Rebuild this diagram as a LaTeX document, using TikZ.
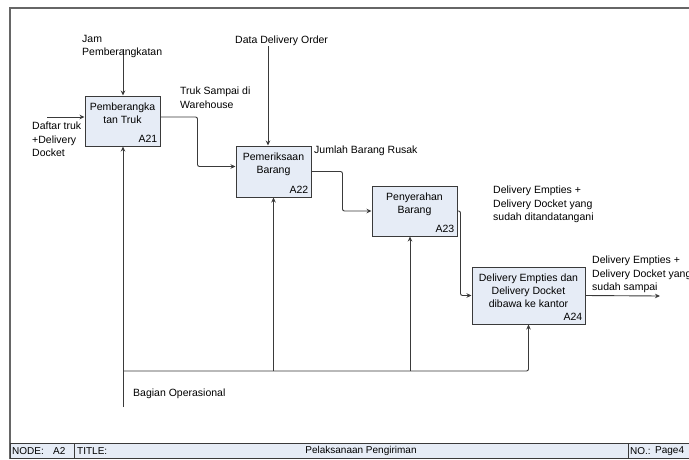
\documentclass[tikz,border=0pt]{standalone}
\usepackage{fontspec}
\setmainfont{Liberation Sans}
\usetikzlibrary{arrows.meta}
\definecolor{boxfill}{HTML}{E6ECF6}
\definecolor{boxline}{HTML}{3A3A3A}
\definecolor{framegray}{HTML}{666666}

\begin{document}
\begin{tikzpicture}[x=1pt, y=-1pt,
  fn/.style={draw=boxline, fill=boxfill, line width=1pt, inner sep=0pt},
  boxtxt/.style={font=\fontsize{10.5}{13}\selectfont, inner sep=0pt, align=center, anchor=north},
  idtxt/.style={font=\fontsize{10.5}{13}\selectfont, inner sep=0pt, anchor=base east},
  txt/.style={font=\fontsize{10.5}{13.5}\selectfont, inner sep=0pt, align=left, anchor=north west},
  bartxt/.style={font=\fontsize{10}{12}\selectfont, inner sep=0pt},
  flow/.style={draw=boxline, line width=0.9pt, rounded corners=2pt, -{Stealth[length=5pt,width=4.5pt]}}]
  \useasboundingbox (0,0) rectangle (689,459);

  % Frame and title bar
  \draw[framegray, line width=1.6pt] (10,459) -- (10,8) -- (700,8);
  \draw[boxline, fill=boxfill, line width=1pt] (10,443) rectangle (700,458);
  \draw[boxline, line width=1pt] (74,443) -- (74,458);
  \draw[boxline, line width=1pt] (628,443) -- (628,458);
  \node[bartxt, anchor=west] (nodetag) at (12,451) {NODE:};
  \node[bartxt, anchor=west] (nodeno) at (53,451) {A2};
  \node[bartxt, anchor=west] (titletag) at (77,451) {TITLE:};
  \node[bartxt] (title) at (361,451) {Pelaksanaan Pengiriman};
  \node[bartxt, anchor=west] (notag) at (630,451) {NO.:};
  \node[bartxt, anchor=west] (page) at (655,451) {Page4};

  % Activity boxes
  \foreach \n/\c/\w/\h/\t in {21/{122.5,121}/75/50/{Pemberangka\\tan Truk},
                              22/{273.5,171.5}/75/51/{Pemeriksaan\\Barang},
                              23/{414.5,211}/85/50/{Penyerahan\\Barang},
                              24/{528.5,295.5}/113/57/{Delivery Empties dan\\Delivery Docket\\dibawa ke kantor}} {
    \node[fn, minimum width=\w pt, minimum height=\h pt] (a\n) at (\c) {};
    \node[boxtxt] (a\n t) at ([yshift=-7pt]a\n.north) {\t}; % box text
    \node[idtxt] (a\n id) at ([xshift=-3pt, yshift=4pt]a\n.south east) {A\n}; % box number
  }

  % Free ends
  \coordinate (jam) at (123,49);
  \coordinate (ddo) at (268,46);
  \coordinate (daftar) at (47,117);
  \coordinate (sampai) at (660,296);
  \coordinate (mech) at (123,407);
  \coordinate (bus) at (123,371);

  % Inputs and outputs
  \draw[flow] (daftar) -- ([yshift=4pt]a21.west);
  \draw[flow] ([yshift=4pt]a21.east) -- ++(37,0) |- ([yshift=5pt]a22.west);
  \draw[flow] (a22.east) -- ++(31,0) |- (a23.west);
  \draw[flow] (a23.east) -- ++(3,0) |- (a24.west);
  \draw[flow] (a24.east) -- (sampai);

  % Controls
  \draw[flow] (jam) -- (jam |- a21.north);
  \draw[flow] (ddo) -- (ddo |- a22.north);

  % Mechanisms
  \draw[flow] (mech) -- (mech |- a21.south);
  \draw[flow] (bus) -| (a24.south);
  \draw[flow] (bus -| a22.south) -- (a22.south);
  \draw[flow] (bus -| 410,0) -- (410,0 |- a23.south);

  % Arrow labels
  \node[txt] (jamtxt) at (82,35) {Jam\\Pemberangkatan};
  \node[txt] (ddotxt) at (235,36) {Data Delivery Order};
  \node[txt] (truktxt) at (180,87) {Truk Sampai di\\Warehouse};
  \node[txt] (daftartxt) at (32,122) {Daftar truk\\+Delivery\\Docket};
  \node[txt] (rusaktxt) at (314,146) {Jumlah Barang Rusak};
  \node[txt] (ttdtxt) at (493,186) {Delivery Empties +\\Delivery Docket yang\\sudah ditandatangani};
  \node[txt] (sampaitxt) at (592,256) {Delivery Empties +\\Delivery Docket yang\\sudah sampai};
  \node[txt] (opstxt) at (133,389) {Bagian Operasional};
\end{tikzpicture}
\end{document}
